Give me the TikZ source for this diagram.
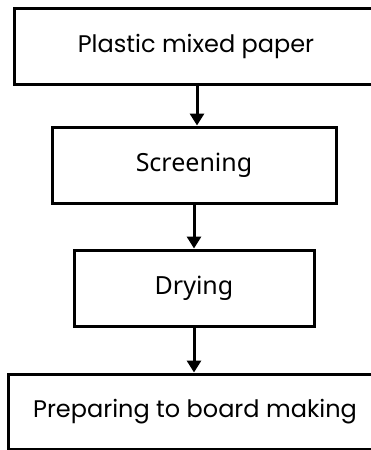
\documentclass[tikz,border=0pt]{standalone}
\usepackage{fontspec}
\newfontfamily\roundfont{Poppins}
\newfontfamily\notofont{Noto Sans}
\usetikzlibrary{arrows.meta}
\begin{document}
\begin{tikzpicture}[x=1pt,y=-1pt,
  box/.style={draw=black, line width=3pt, rectangle, inner sep=0pt, align=center},
  roundtext/.style={font=\roundfont\fontsize{24}{28}\selectfont},
  notext/.style={font=\notofont\fontsize{25}{29}\selectfont},
  arr/.style={line width=3pt, -{Triangle[width=14pt,length=12pt]}}]
\clip (0,0) rectangle (371,450);
\useasboundingbox (0,0) rectangle (371,450);
\node[box, roundtext, minimum width=364pt, minimum height=76pt] (a) at (196,46) {Plastic mixed paper};
\node[box, notext, minimum width=284pt, minimum height=76pt] (b) at (194,165) {Screening};
\node[box, notext, minimum width=240pt, minimum height=76pt] (c) at (194,288) {Drying};
\node[box, roundtext, minimum width=374pt, minimum height=75pt] (d) at (195,411.5) {Preparing to board making};
\draw[arr] (a.south -| 197,0) -- (b.north -| 197,0);
\draw[arr] (b.south) -- (c.north);
\draw[arr] (c.south) -- (d.north -| c.south);
\end{tikzpicture}
\end{document}
